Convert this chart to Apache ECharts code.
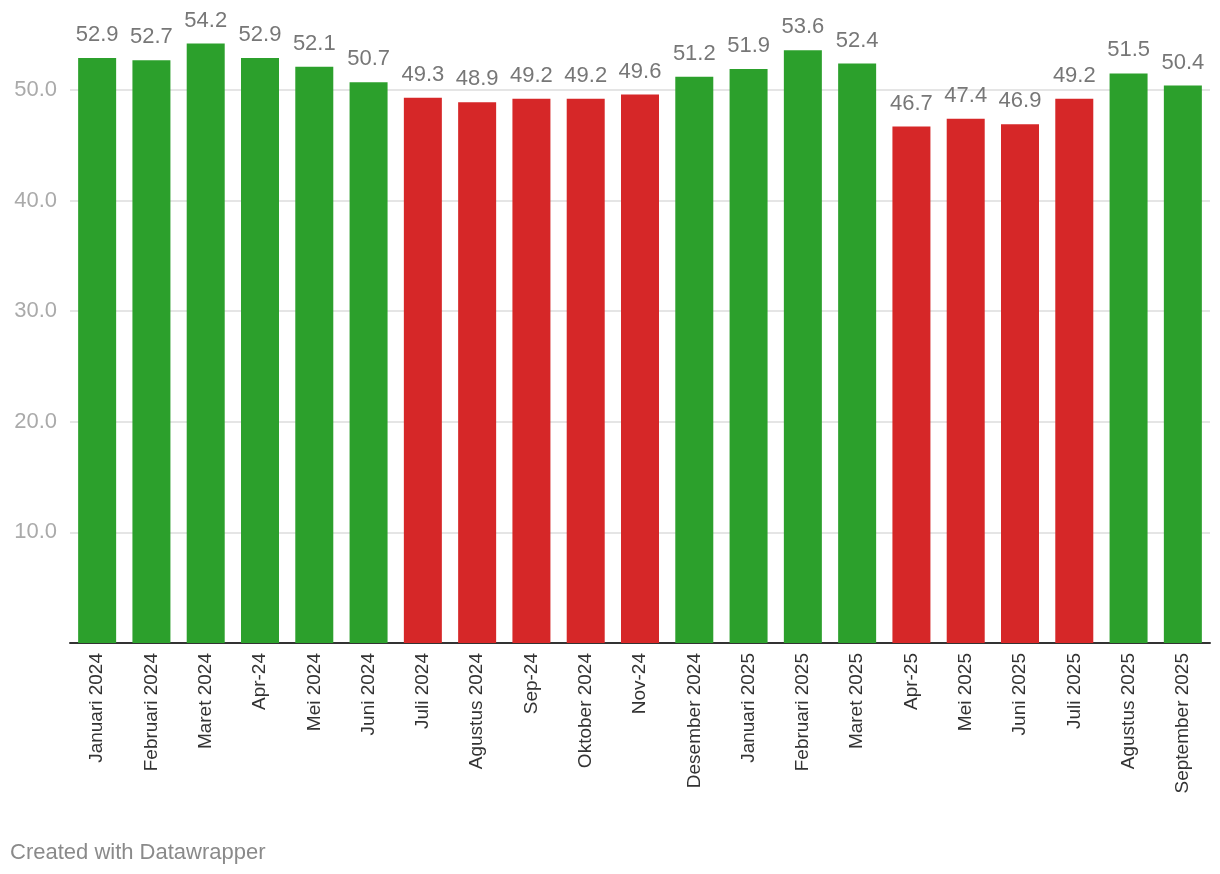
<!DOCTYPE html>
<html>
<head>
<meta charset="utf-8">
<script src="https://cdn.jsdelivr.net/npm/echarts@6/dist/echarts.min.js"></script>
<style>
html,body{margin:0;padding:0;background:#fff;}
#chart{width:1220px;height:874px;}
</style>
</head>
<body>
<div id="chart"></div>
<script>
const categories = ["Januari 2024","Februari 2024","Maret 2024","Apr-24","Mei 2024","Juni 2024","Juli 2024","Agustus 2024","Sep-24","Oktober 2024","Nov-24","Desember 2024","Januari 2025","Februari 2025","Maret 2025","Apr-25","Mei 2025","Juni 2025","Juli 2025","Agustus 2025","September 2025"];
const values = [52.9,52.7,54.2,52.9,52.1,50.7,49.3,48.9,49.2,49.2,49.6,51.2,51.9,53.6,52.4,46.7,47.4,46.9,49.2,51.5,50.4];
const threshold = 50;
const colorUp = '#2ca02c';
const colorDown = '#d62728';
const yMin = 0, yMax = 58.14, yInterval = 10;

const chart = echarts.init(document.getElementById('chart'), null, {renderer:'canvas'});
const font = '"Liberation Sans", Arial, Helvetica, sans-serif';
chart.setOption({
  animation:false,
  textStyle:{fontFamily:font},
  grid:{left:70,right:10,top:0,bottom:231,containLabel:false},
  xAxis:{
    type:'category',
    data:categories,
    axisLine:{show:true,lineStyle:{color:'#333',width:2}},
    axisTick:{show:false},
    axisLabel:{rotate:90,color:'#333',fontSize:19,margin:10,fontFamily:font,interval:0}
  },
  yAxis:{
    type:'value',
    min:yMin,max:yMax,interval:yInterval,
    axisLine:{show:false},
    axisTick:{show:false},
    splitLine:{showMaxLine:false,lineStyle:{color:'#e5e5e5',width:2}},
    axisLabel:{
      color:'#aaaaaa',fontSize:22,margin:13,fontFamily:font,showMaxLabel:false,
      formatter:function(v){return (v===0||v>50)?'':v.toFixed(1);}
    }
  },
  series:[{
    type:'bar',
    data:values.map(v=>({value:v,itemStyle:{color:v>=threshold?colorUp:colorDown}})),
    barCategoryGap:'30%',
    label:{show:true,position:'top',distance:12,color:'#777',fontSize:22,fontFamily:font,
      formatter:function(p){return p.value.toFixed(1);}}
  }],
  graphic:[{
    type:'text',left:10,top:842,
    style:{text:'Created with Datawrapper',fill:'#8a8a8a',fontSize:22,fontFamily:font}
  }]
});
</script>
</body>
</html>
